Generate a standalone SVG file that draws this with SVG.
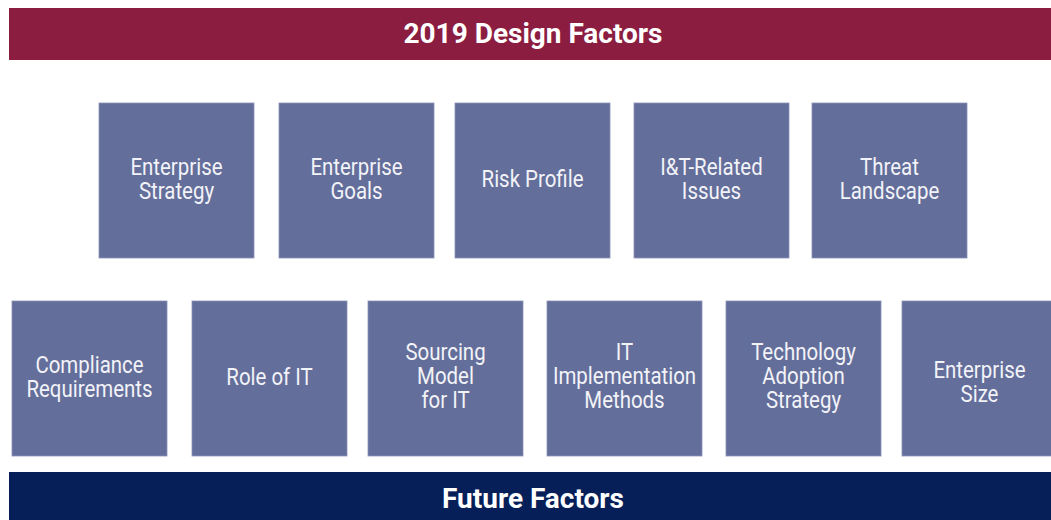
<svg xmlns="http://www.w3.org/2000/svg" width="1051" height="520" viewBox="0 0 1051 520">
  <style>
    .bar-top { fill: #8B1D41; }
    .bar-bottom { fill: #061F59; }
    .box { fill: #646E9A; stroke: #8A92B8; stroke-width: 0.8; }
    .title { font-family: Roboto, "Liberation Sans", sans-serif; font-weight: 700; font-size: 28px; fill: #FFFFFF; text-anchor: middle; }
    .label { font-family: Roboto, "Liberation Sans", sans-serif; font-size: 23.5px; fill: #F2F3F8; text-anchor: middle; }
  </style>

  <!-- header band -->
  <g id="header">
    <rect class="bar-top" x="9" y="8" width="1042" height="52"/>
    <text class="title" x="533" y="43">2019 Design Factors</text>
  </g>

  <!-- upper row of factors; labels are narrowed horizontally via matrix(0.87 0 0 1 cx 0) -->
  <g id="enterprise-strategy">
    <rect class="box" x="99" y="103" width="155" height="155"/>
    <text class="label" transform="matrix(0.87 0 0 1 176.5 0)" y="175">Enterprise</text>
    <text class="label" transform="matrix(0.87 0 0 1 176.5 0)" y="199">Strategy</text>
  </g>
  <g id="enterprise-goals">
    <rect class="box" x="279" y="103" width="155" height="155"/>
    <text class="label" transform="matrix(0.87 0 0 1 356.5 0)" y="175">Enterprise</text>
    <text class="label" transform="matrix(0.87 0 0 1 356.5 0)" y="199">Goals</text>
  </g>
  <g id="risk-profile">
    <rect class="box" x="455" y="103" width="155" height="155"/>
    <text class="label" transform="matrix(0.87 0 0 1 532.5 0)" y="187">Risk Profile</text>
  </g>
  <g id="it-related-issues">
    <rect class="box" x="634" y="103" width="155" height="155"/>
    <text class="label" transform="matrix(0.87 0 0 1 711.5 0)" y="175">I&amp;T-Related</text>
    <text class="label" transform="matrix(0.87 0 0 1 711.5 0)" y="199">Issues</text>
  </g>
  <g id="threat-landscape">
    <rect class="box" x="812" y="103" width="155" height="155"/>
    <text class="label" transform="matrix(0.87 0 0 1 889.5 0)" y="175">Threat</text>
    <text class="label" transform="matrix(0.87 0 0 1 889.5 0)" y="199">Landscape</text>
  </g>

  <!-- lower row of factors -->
  <g id="compliance-requirements">
    <rect class="box" x="12" y="301" width="155" height="155"/>
    <text class="label" transform="matrix(0.87 0 0 1 89.5 0)" y="373">Compliance</text>
    <text class="label" transform="matrix(0.87 0 0 1 89.5 0)" y="397">Requirements</text>
  </g>
  <g id="role-of-it">
    <rect class="box" x="192" y="301" width="155" height="155"/>
    <text class="label" transform="matrix(0.87 0 0 1 269.5 0)" y="385">Role of IT</text>
  </g>
  <g id="sourcing-model">
    <rect class="box" x="368" y="301" width="155" height="155"/>
    <text class="label" transform="matrix(0.87 0 0 1 445.5 0)" y="360">Sourcing</text>
    <text class="label" transform="matrix(0.87 0 0 1 445.5 0)" y="384">Model</text>
    <text class="label" transform="matrix(0.87 0 0 1 445.5 0)" y="408">for IT</text>
  </g>
  <g id="it-implementation-methods">
    <rect class="box" x="547" y="301" width="155" height="155"/>
    <text class="label" transform="matrix(0.87 0 0 1 624.5 0)" y="360">IT</text>
    <text class="label" transform="matrix(0.87 0 0 1 624.5 0)" y="384">Implementation</text>
    <text class="label" transform="matrix(0.87 0 0 1 624.5 0)" y="408">Methods</text>
  </g>
  <g id="technology-adoption-strategy">
    <rect class="box" x="726" y="301" width="155" height="155"/>
    <text class="label" transform="matrix(0.87 0 0 1 803.5 0)" y="360">Technology</text>
    <text class="label" transform="matrix(0.87 0 0 1 803.5 0)" y="384">Adoption</text>
    <text class="label" transform="matrix(0.87 0 0 1 803.5 0)" y="408">Strategy</text>
  </g>
  <g id="enterprise-size">
    <rect class="box" x="902" y="301" width="155" height="155"/>
    <text class="label" transform="matrix(0.87 0 0 1 979.5 0)" y="378">Enterprise</text>
    <text class="label" transform="matrix(0.87 0 0 1 979.5 0)" y="402">Size</text>
  </g>

  <!-- footer band -->
  <g id="footer">
    <rect class="bar-bottom" x="9" y="472" width="1042" height="48"/>
    <text class="title" x="533" y="508">Future Factors</text>
  </g>

  <!-- no connectors between the factors -->
  <g id="connectors"/>
</svg>
